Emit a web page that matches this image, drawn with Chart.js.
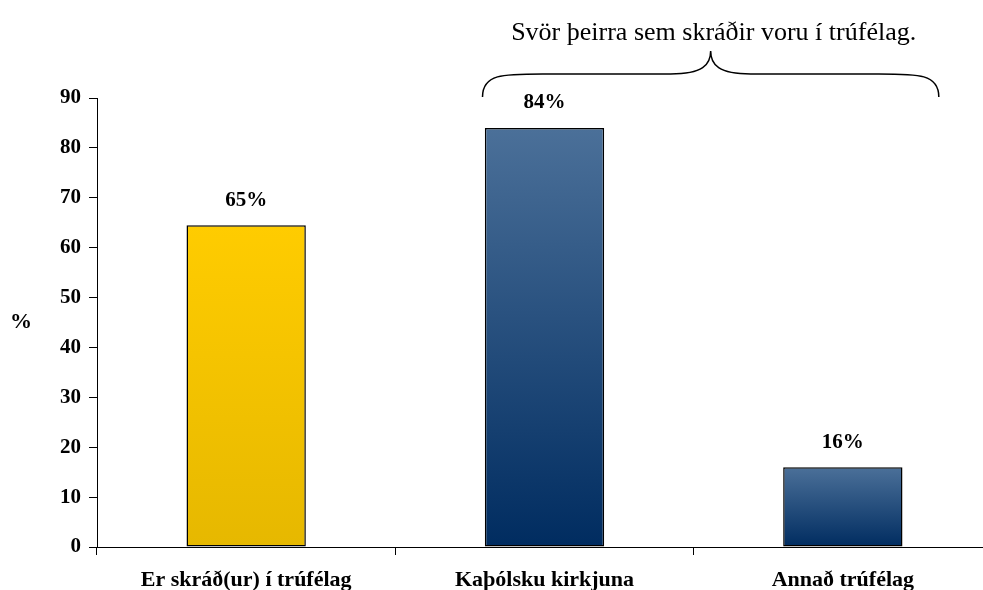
<!DOCTYPE html>
<html>
<head>
<meta charset="utf-8">
<script src="https://cdn.jsdelivr.net/npm/chart.js@4/dist/chart.umd.min.js"></script>
<style>
  html, body { margin: 0; padding: 0; background: #fff; overflow: hidden; }
  #wrap { width: 992px; height: 590px; }
</style>
</head>
<body>
<div id="wrap"><canvas id="chart" width="992" height="590"></canvas></div>
<script>
// Chart data
const categories = ['Er skráð(ur) í trúfélag', 'Kaþólsku kirkjuna', 'Annað trúfélag'];
const values = [64.5, 84, 16];
const valueLabels = ['65%', '84%', '16%'];
const yTicks = [0, 10, 20, 30, 40, 50, 60, 70, 80, 90];
const braceText = 'Svör þeirra sem skráðir voru í trúfélag.';

const serif = '"Liberation Serif", "Times New Roman", serif';

// gradient per bar, light at the top, dark at the base
function barFill(context) {
  const chart = context.chart;
  if (!chart.chartArea) return '#ffcc00';
  const y = chart.scales.y;
  const top = y.getPixelForValue(values[context.dataIndex]);
  const bottom = y.getPixelForValue(0);
  const g = chart.ctx.createLinearGradient(0, top, 0, bottom);
  if (context.dataIndex === 0) {
    g.addColorStop(0, '#ffcc00');
    g.addColorStop(1, '#e6b800');
  } else {
    g.addColorStop(0, '#4b7099');
    g.addColorStop(1, '#002c60');
  }
  return g;
}

// value labels, the "%" axis title and the brace over the last two bars
const extras = {
  id: 'extras',
  afterDatasetsDraw(chart) {
    const ctx = chart.ctx;
    const x = chart.scales.x;
    const y = chart.scales.y;
    ctx.save();
    ctx.fillStyle = '#000';
    ctx.font = 'bold 21px ' + serif;
    ctx.textAlign = 'center';
    ctx.textBaseline = 'middle';
    values.forEach((v, i) => {
      ctx.fillText(valueLabels[i], x.getPixelForValue(i), y.getPixelForValue(v) - 25);
    });

    ctx.font = 'bold 22px ' + serif;
    ctx.fillText('%', 21, (chart.chartArea.top + chart.chartArea.bottom) / 2);

    // brace
    const left = x.getPixelForValue(1) - 62;
    const right = x.getPixelForValue(2) + 96;
    const mid = (left + right) / 2;
    const base = chart.chartArea.top - 1;
    const h = 46;
    ctx.strokeStyle = '#000';
    ctx.lineWidth = 1.5;
    ctx.beginPath();
    ctx.moveTo(left, base);
    ctx.bezierCurveTo(left, base - h * 0.5, left + 20, base - h * 0.5, left + 60, base - h * 0.5);
    ctx.lineTo(mid - 40, base - h * 0.5);
    ctx.bezierCurveTo(mid - 8, base - h * 0.5, mid, base - h * 0.7, mid, base - h);
    ctx.bezierCurveTo(mid, base - h * 0.7, mid + 8, base - h * 0.5, mid + 40, base - h * 0.5);
    ctx.lineTo(right - 60, base - h * 0.5);
    ctx.bezierCurveTo(right - 20, base - h * 0.5, right, base - h * 0.5, right, base);
    ctx.stroke();

    ctx.font = '26px ' + serif;
    ctx.fillText(braceText, mid + 3, 33);
    ctx.restore();
  }
};

new Chart(document.getElementById('chart'), {
  type: 'bar',
  data: {
    labels: categories,
    datasets: [{
      data: values,
      backgroundColor: barFill,
      borderColor: '#000',
      borderWidth: 1.5,
      borderSkipped: false,
      categoryPercentage: 1,
      barPercentage: 0.4
    }]
  },
  options: {
    responsive: false,
    animation: false,
    layout: { padding: { top: 98, right: 0, left: 0, bottom: 0 } },
    plugins: { legend: { display: false }, tooltip: { enabled: false } },
    scales: {
      x: {
        border: { color: '#000', width: 1 },
        grid: { drawOnChartArea: false, color: '#000', tickLength: 8, offset: true },
        ticks: {
          color: '#000',
          font: { family: serif, size: 22, weight: 'bold' },
          padding: 12,
          maxRotation: 0
        },
        afterFit(scale) { scale.height = 43; }
      },
      y: {
        min: 0,
        max: 90,
        afterBuildTicks(scale) { scale.ticks = yTicks.map(v => ({ value: v })); },
        border: { color: '#000', width: 1 },
        grid: { drawOnChartArea: false, color: '#000', tickLength: 8 },
        ticks: {
          color: '#000',
          font: { family: serif, size: 21, weight: 'bold' },
          padding: 8
        },
        afterFit(scale) { scale.width = 97; }
      }
    }
  },
  plugins: [extras]
});
</script>
</body>
</html>
